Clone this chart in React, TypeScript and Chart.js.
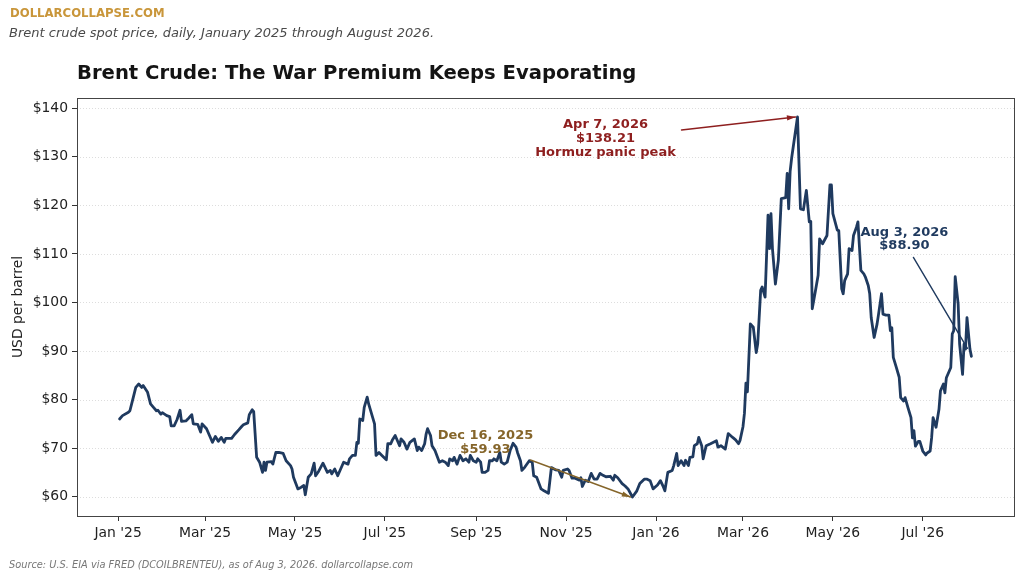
import { useEffect, useRef } from "react";
import { Chart, registerables } from "chart.js";

Chart.register(...registerables);

const FONT = '"DejaVu Sans", "Noto Sans", sans-serif';

// Days since 2025-01-01 for each sampled daily close
const dayOffsets = [
  1, 3, 7, 8, 10, 12, 14, 16, 17, 20, 22, 24, 26, 27, 29, 30, 33, 35, 36, 38, 40, 42, 43, 46, 48, 50,
  51, 54, 56, 57, 60, 62, 64, 66, 68, 70, 72, 73, 77, 79, 82, 84, 85, 88, 89, 91, 92, 94, 96, 98, 99,
  100, 101, 104, 105, 107, 109, 112, 114, 117, 118, 119, 122, 124, 126, 127, 129, 131, 133, 134, 136,
  139, 142, 144, 145, 147, 149, 151, 153, 156, 157, 159, 161, 162, 163, 164, 166, 167, 169, 170, 174,
  175, 177, 179, 182, 183, 185, 186, 188, 191, 192, 194, 196, 198, 201, 203, 204, 206, 208, 209, 210,
  212, 213, 215, 218, 220, 222, 224, 225, 227, 228, 230, 232, 234, 236, 238, 239, 241, 243, 244, 246,
  247, 249, 251, 252, 254, 255, 257, 259, 260, 262, 264, 266, 268, 270, 271, 273, 274, 276, 279, 281,
  282, 284, 287, 289, 292, 294, 297, 299, 301, 302, 305, 306, 308, 310, 313, 314, 315, 317, 319, 321,
  323, 325, 327, 329, 331, 334, 336, 337, 339, 342, 344, 346, 349, 352, 354, 357, 359, 361, 363, 366,
  368, 370, 371, 373, 376, 377, 379, 380, 382, 384, 385, 387, 388, 390, 391, 393, 394, 396, 397, 399,
  402, 404, 406, 407, 409, 412, 414, 417, 419, 421, 422, 424, 425, 426, 427, 429, 431, 433, 434, 436,
  437, 439, 441, 442, 443, 444, 446, 448, 450, 453, 454, 455, 456, 457, 461, 463, 465, 467, 469, 470,
  471, 473, 475, 476, 478, 481, 483, 484, 485, 488, 489, 491, 492, 493, 495, 496, 498, 499, 501, 502,
  504, 506, 507, 509, 510, 511, 513, 515, 516, 518, 519, 521, 523, 524, 525, 526, 528, 530, 531, 533,
  534, 536, 538, 539, 540, 541, 543, 544, 546, 548, 549, 551, 552, 553, 555, 557, 558, 560, 561, 562,
  564, 565, 566, 567, 568, 570, 571, 573, 574, 575, 576, 578, 579,
];

// Brent spot, USD per barrel
const brentPrices = [
  76.0, 76.7, 77.4, 77.7, 80.1, 82.5, 83.2, 82.5, 82.9, 81.5, 79.1, 78.4, 77.7, 77.8, 77.0, 77.3, 76.7,
  76.5, 74.6, 74.6, 75.9, 77.8, 75.5, 75.6, 76.2, 76.9, 75.0, 74.9, 73.3, 75.0, 74.0, 72.6, 71.2, 72.4,
  71.4, 72.2, 71.2, 72.0, 72.0, 72.8, 73.8, 74.5, 74.8, 75.2, 76.9, 77.9, 77.5, 68.1, 67.1, 65.0, 67.1,
  65.4, 67.1, 67.2, 66.7, 69.1, 69.1, 68.9, 67.4, 66.4, 65.7, 64.0, 61.6, 61.9, 62.3, 60.4, 64.0, 64.7,
  66.9, 64.3, 65.2, 66.9, 65.0, 65.4, 64.7, 65.7, 64.3, 65.7, 67.1, 66.7, 67.8, 68.5, 68.5, 71.2, 71.0,
  76.0, 75.7, 78.4, 80.5, 79.1, 75.0, 68.5, 69.1, 68.5, 67.6, 70.9, 70.9, 71.6, 72.6, 70.5, 71.9, 71.2,
  69.8, 71.2, 71.9, 69.5, 70.2, 69.5, 70.9, 72.9, 74.0, 72.6, 70.5, 69.5, 67.1, 67.4, 67.1, 66.4, 67.8,
  67.4, 68.1, 66.7, 68.5, 67.4, 67.8, 67.1, 68.5, 67.4, 67.1, 67.8, 67.1, 65.0, 65.0, 65.4, 67.4, 67.4,
  67.8, 67.4, 69.1, 67.1, 66.7, 67.1, 69.5, 71.0, 70.2, 69.1, 67.4, 65.4, 66.1, 67.4, 67.1, 64.3, 64.0,
  61.6, 61.2, 60.7, 66.0, 65.5, 65.4, 64.0, 65.4, 65.7, 65.4, 63.8, 63.8, 63.4, 63.9, 62.1, 63.4, 63.1,
  64.8, 63.6, 63.6, 64.8, 64.4, 64.1, 64.2, 63.4, 64.4, 63.9, 62.7, 62.2, 61.6, 59.93, 61.2, 62.7, 63.6,
  63.6, 63.3, 61.6, 62.4, 63.3, 62.0, 61.2, 65.0, 65.4, 66.4, 68.9, 66.4, 67.4, 66.4, 67.5, 66.4, 68.1,
  68.2, 70.5, 70.9, 72.2, 70.5, 67.8, 70.5, 70.9, 71.2, 71.5, 70.2, 70.5, 69.8, 73.0, 72.2, 71.7, 70.9,
  71.6, 74.4, 77.2, 83.4, 81.6, 95.6, 94.9, 89.7, 91.5, 102.5, 103.2, 101.1, 118.0, 111.1, 118.3, 111.1,
  103.8, 108.7, 121.4, 121.6, 126.6, 119.3, 127.0, 129.7, 138.21, 119.3, 119.1, 123.1, 116.6, 116.7,
  98.7, 102.1, 105.6, 113.1, 112.1, 113.8, 124.2, 124.2, 118.3, 114.9, 114.8, 102.8, 101.8, 104.5, 105.9,
  111.1, 110.7, 113.8, 115.5, 116.6, 106.6, 105.9, 105.3, 103.5, 101.8, 96.9, 92.8, 95.6, 97.6, 101.8,
  97.6, 97.4, 97.4, 94.2, 94.8, 88.7, 86.7, 84.6, 80.4, 79.7, 80.4, 78.3, 76.3, 72.1, 73.6, 70.4, 71.4,
  71.4, 69.4, 68.6, 69.0, 69.4, 72.1, 76.3, 74.3, 78.0, 81.8, 83.2, 81.4, 84.5, 85.9, 86.6, 93.5, 94.2,
  105.3, 99.7, 91.4, 85.2, 91.4, 90.4, 96.9, 90.4, 88.9,
];

const xTickDays = [0, 59, 120, 181, 243, 304, 365, 424, 485, 546];
const xTickLabels = ["Jan '25", "Mar '25", "May '25", "Jul '25", "Sep '25", "Nov '25", "Jan '26", "Mar '26", "May '26", "Jul '26"];
const yTickValues = [60, 70, 80, 90, 100, 110, 120, 130, 140];

const brandText = "DOLLARCOLLAPSE.COM";
const subtitleText = "Brent crude spot price, daily, January 2025 through August 2026.";
const titleText = "Brent Crude: The War Premium Keeps Evaporating";
const yAxisText = "USD per barrel";
const sourceText = "Source: U.S. EIA via FRED (DCOILBRENTEU), as of Aug 3, 2026. dollarcollapse.com";

const peakLabel = ["Apr 7, 2026", "$138.21", "Hormuz panic peak"];
const lowLabel = ["Dec 16, 2025", "$59.93"];
const lastLabel = ["Aug 3, 2026", "$88.90"];

const LINE = "#1F3A5F";
const RED = "#8E1F1F";
const BROWN = "#85652A";
const GOLD = "#C9963A";

function drawArrow(ctx: CanvasRenderingContext2D, x1: number, y1: number, x2: number, y2: number, color: string, head: boolean) {
  ctx.save();
  ctx.strokeStyle = color;
  ctx.lineWidth = 1.4;
  ctx.lineCap = "round";
  ctx.beginPath();
  ctx.moveTo(x1, y1);
  ctx.lineTo(x2, y2);
  ctx.stroke();
  if (head) {
    const a = Math.atan2(y2 - y1, x2 - x1);
    const L = 9;
    ctx.fillStyle = color;
    ctx.beginPath();
    ctx.moveTo(x2, y2);
    ctx.lineTo(x2 - L * Math.cos(a - 0.3), y2 - L * Math.sin(a - 0.3));
    ctx.lineTo(x2 - L * Math.cos(a + 0.3), y2 - L * Math.sin(a + 0.3));
    ctx.closePath();
    ctx.fill();
  }
  ctx.restore();
}

function drawLines(ctx: CanvasRenderingContext2D, lines: string[], cx: number, cy0: number, lh: number, color: string) {
  ctx.save();
  ctx.fillStyle = color;
  ctx.font = `bold 13px ${FONT}`;
  ctx.textAlign = "center";
  ctx.textBaseline = "middle";
  lines.forEach((t, i) => ctx.fillText(t, cx, cy0 + i * lh));
  ctx.restore();
}

const decorPlugin = {
  id: "decor",
  beforeDraw(chart: any) {
    const { ctx, width, height } = chart;
    ctx.save();
    ctx.fillStyle = "#ffffff";
    ctx.fillRect(0, 0, width, height);
    ctx.restore();
  },
  beforeDatasetsDraw(chart: any) {
    const { ctx, chartArea } = chart;
    const y = chart.scales.y;
    ctx.save();
    ctx.strokeStyle = "#d4d4d4";
    ctx.lineWidth = 0.8;
    ctx.setLineDash([1, 2]);
    yTickValues.forEach((v) => {
      const py = Math.round(y.getPixelForValue(v)) + 0.5;
      ctx.beginPath();
      ctx.moveTo(chartArea.left, py);
      ctx.lineTo(chartArea.right, py);
      ctx.stroke();
    });
    ctx.restore();
  },
  afterDraw(chart: any) {
    const { ctx, chartArea } = chart;
    const xs = chart.scales.x;
    const ys = chart.scales.y;

    // spines
    ctx.save();
    ctx.strokeStyle = "#444444";
    ctx.lineWidth = 1;
    ctx.strokeRect(chartArea.left + 0.5, chartArea.top + 0.5, chartArea.right - chartArea.left, chartArea.bottom - chartArea.top);
    ctx.restore();

    // header texts
    ctx.save();
    ctx.textBaseline = "middle";
    ctx.textAlign = "left";
    ctx.fillStyle = GOLD;
    ctx.font = `bold 11.7px ${FONT}`;
    ctx.fillText(brandText, 10, 14);
    ctx.fillStyle = "#4a4a4a";
    ctx.font = `italic 13px ${FONT}`;
    ctx.fillText(subtitleText, 9, 34);
    ctx.fillStyle = "#141414";
    ctx.font = `bold 19.6px ${FONT}`;
    ctx.fillText(titleText, chartArea.left, 74);
    ctx.fillStyle = "#777777";
    ctx.font = `italic 9.8px ${FONT}`;
    ctx.fillText(sourceText, 9, 565);
    // y-axis label
    ctx.translate(18, (chartArea.top + chartArea.bottom) / 2);
    ctx.rotate(-Math.PI / 2);
    ctx.textAlign = "center";
    ctx.fillStyle = "#222222";
    ctx.font = `13.9px ${FONT}`;
    ctx.fillText(yAxisText, 0, 0);
    ctx.restore();

    // annotations
    const n = brentPrices.length;
    let iMax = 0;
    let iMin = 0;
    brentPrices.forEach((v, i) => {
      if (v > brentPrices[iMax]) iMax = i;
      if (v < brentPrices[iMin]) iMin = i;
    });
    const px = (i: number) => xs.getPixelForValue(dayOffsets[i]);
    const py = (i: number) => ys.getPixelForValue(brentPrices[i]);

    const hx = px(iMax), hy = py(iMax);
    drawArrow(ctx, hx - 116, hy + 13, hx - 2, hy, RED, true);
    drawLines(ctx, peakLabel, hx - 192, hy + 8, 14, RED);

    const lx = px(iMin), ly = py(iMin);
    drawArrow(ctx, lx - 102, ly - 37, lx - 2, ly, BROWN, true);
    drawLines(ctx, lowLabel, lx - 147, ly - 61, 13.5, BROWN);

    const ex = px(n - 1), ey = py(n - 1);
    drawArrow(ctx, ex - 58, ey - 99, ex - 4, ey - 8, LINE, false);
    drawLines(ctx, lastLabel, ex - 67, ey - 124, 13.5, LINE);
  },
};

export default function App() {
  const canvasRef = useRef<HTMLCanvasElement | null>(null);

  useEffect(() => {
    const canvas = canvasRef.current;
    if (!canvas) return;
    const points = dayOffsets.map((d, i) => ({ x: d, y: brentPrices[i] }));
    const yMin = Math.min(...brentPrices);
    const yMax = Math.max(...brentPrices);
    const yPad = (yMax - yMin) * 0.05;
    const xFirst = dayOffsets[0];
    const xLast = dayOffsets[dayOffsets.length - 1];
    const xPad = (xLast - xFirst) * 0.05;

    const chart = new Chart(canvas, {
      type: "line",
      data: {
        datasets: [
          {
            data: points,
            borderColor: LINE,
            borderWidth: 2.8,
            pointRadius: 0,
            tension: 0,
            fill: false,
            borderJoinStyle: "round",
            borderCapStyle: "round",
          },
        ],
      },
      options: {
        animation: false,
        responsive: false,
        devicePixelRatio: 1,
        parsing: false,
        layout: { padding: { left: 0, right: 10, top: 98, bottom: 0 } },
        plugins: { legend: { display: false }, tooltip: { enabled: false }, title: { display: false } },
        scales: {
          x: {
            type: "linear",
            min: xFirst - xPad,
            max: xLast + xPad,
            afterBuildTicks: (scale: any) => {
              scale.ticks = xTickDays.map((v) => ({ value: v }));
            },
            afterFit: (scale: any) => {
              scale.height = 64;
            },
            grid: { display: true, drawOnChartArea: false, drawTicks: true, tickLength: 5, tickColor: "#333333", tickWidth: 1 },
            border: { display: false },
            ticks: {
              autoSkip: false,
              maxRotation: 0,
              padding: 4,
              color: "#222222",
              font: { family: FONT, size: 13.9 },
              callback: (v: any) => {
                const k = xTickDays.indexOf(Number(v));
                return k >= 0 ? xTickLabels[k] : "";
              },
            },
          },
          y: {
            type: "linear",
            min: yMin - yPad,
            max: yMax + yPad,
            afterBuildTicks: (scale: any) => {
              scale.ticks = yTickValues.map((v) => ({ value: v }));
            },
            afterFit: (scale: any) => {
              scale.width = 77;
            },
            grid: { display: true, drawOnChartArea: false, drawTicks: true, tickLength: 5, tickColor: "#333333", tickWidth: 1 },
            border: { display: false },
            ticks: {
              padding: 4,
              color: "#222222",
              font: { family: FONT, size: 13.9 },
              callback: (v: any) => "$" + v,
            },
          },
        },
      },
      plugins: [decorPlugin],
    } as any);

    return () => chart.destroy();
  }, []);

  return (
    <div style={{ position: "fixed", left: 0, top: 0, width: 1024, height: 580, background: "#fff" }}>
      <canvas ref={canvasRef} width={1024} height={580} style={{ display: "block", width: 1024, height: 580 }} />
    </div>
  );
}
